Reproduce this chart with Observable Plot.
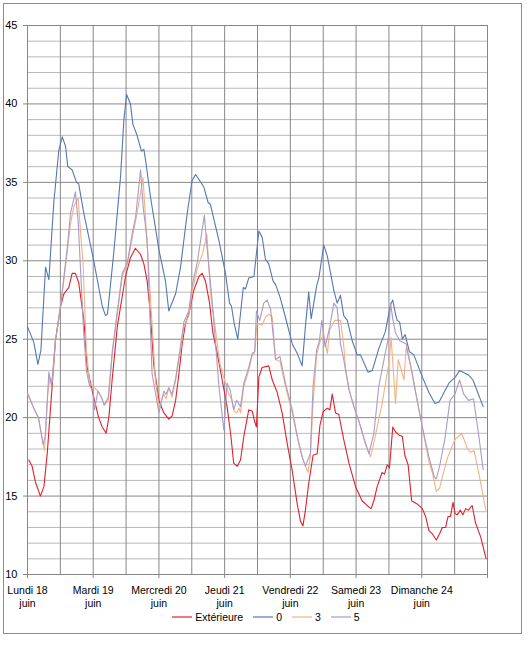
<!DOCTYPE html>
<html>
<head>
<meta charset="utf-8">
<script src="https://cdn.jsdelivr.net/npm/d3@7"></script>
<script src="https://cdn.jsdelivr.net/npm/@observablehq/plot@0.6"></script>
<style>
  html, body { margin: 0; padding: 0; background: #fff; }
  body { width: 532px; height: 645px; position: relative; font-family: "Liberation Sans", Arial, sans-serif; }
  #frame { position: absolute; left: 3px; top: 3px; width: 519px; height: 631px; border: 1px solid #8c8c8c; box-sizing: border-box; pointer-events: none; }
  #chart { position: absolute; left: 0; top: 0; }
  #legend { position: absolute; left: 0; top: 611px; width: 532px; display: flex; justify-content: center; align-items: center; font-size: 10.5px; color: #000; }
  #legend .item { display: flex; align-items: center; margin: 0 5px; }
  #legend svg { margin-right: 3px; }
</style>
</head>
<body>
<div id="chart"></div>
<div id="legend"></div>
<div id="frame"></div>
<script>
// Hours since Lundi 18 juin 00:00, and temperatures (°C)
const dayLabels = ["Lundi 18\njuin", "Mardi 19\njuin", "Mercredi 20\njuin", "Jeudi 21\njuin", "Vendredi 22\njuin", "Samedi 23\njuin", "Dimanche 24\njuin"];
const seriesNames = ["Extérieure", "0", "3", "5"];
const seriesColors = ["#e0202a", "#5577b2", "#f4b183", "#a99cc6"];

const extT = [0.5,1.7,2.9,4.7,6,7.2,9,10.2,12.1,13.3,15.1,16.3,17.5,18.7,20.6,21.8,23,24.2,26,27.3,28.7,29.7,30.9,32.8,34,35.8,37.6,39.4,41.3,42.5,43.7,44.9,46.1,48,49.8,51.6,52.8,54.1,55.3,56.5,57.7,58.9,60.7,62.6,63.8,65,66.5,67.7,69.3,71.1,72.9,74.3,75.3,76.6,77.8,79,80.8,82.1,82.9,83.6,84.5,85.7,88.1,89.4,91.2,93,94.9,96.7,98.5,99.7,100.6,101.5,102.7,104.3,105.8,106.8,108,109.5,110.4,111.3,112.5,113.7,115.5,117.4,119.8,122.2,124.7,125.5,126.5,127.7,129.5,130.4,131.4,132.2,133.4,134.4,135.6,136.9,137.8,139,140.3,142.3,144.2,145.4,146.6,147.8,149.3,150.5,151.5,152.7,153.6,154.5,155.4,156.1,156.9,158.1,159,160,161,162.4,163.6,165.5,167.5];
const extV = [17.3,16.9,15.9,15.0,15.6,17.7,22.0,24.9,27.1,27.9,28.3,29.2,29.2,28.6,26.2,23.2,22.2,21.3,20.0,19.4,19.0,20.0,22.4,25.8,27.1,29.0,30.2,30.8,30.4,29.8,28.7,26.6,23.4,21.1,20.3,19.9,20.1,21.1,22.8,24.7,26.0,26.6,28.1,29.0,29.2,28.7,27.3,25.4,24.1,22.4,20.7,18.8,17.1,16.9,17.3,18.8,20.5,20.4,19.8,19.4,22.6,23.2,23.3,22.4,21.6,20.3,18.3,16.6,14.5,13.4,13.1,14.1,15.8,17.6,17.7,19.5,20.4,20.6,20.5,21.5,20.3,20.2,18.6,17.1,15.6,14.7,14.3,14.2,14.7,15.6,16.5,16.4,17.0,16.8,19.4,19.1,18.9,18.8,17.6,17.0,14.7,14.5,14.2,13.7,12.8,12.6,12.2,12.6,13.0,13.0,13.7,13.7,14.6,13.9,13.8,14.1,13.8,14.2,14.1,14.4,13.3,12.4,11.0];

const s0T = [0,2.3,3.8,4.9,6.6,7.8,9.6,11.4,12.7,13.9,14.7,16.3,17.9,18.7,20.6,24.2,27.3,28.5,29.2,31.5,34,35.2,36.2,37.6,38.5,40,41.6,42.5,43.3,44.9,48,50.4,51.6,54.1,55.9,58.3,60.1,61.4,64.4,66,66.8,69.9,72.3,73.8,74.5,75.5,76.8,78.8,79.6,80.8,82.7,84.5,85.7,86.9,88.1,89.7,90.6,92.2,94.2,96.7,98.5,100.3,101.5,102.7,103.6,105.6,106.4,108.2,109.5,111.9,113.1,114.3,115.5,116.8,118.6,120.4,121.6,124.4,125.9,128.3,130.7,132.6,133.4,134.4,135,135.9,136.9,137.9,139.5,141.1,144.2,146.6,148.8,150.3,153.9,156.3,157.8,161.2,162.7,166.4];
const s0V = [25.8,24.8,23.4,24.3,29.6,28.8,33.7,37.0,37.9,37.3,36.0,35.8,35.0,34.9,33.0,30.0,27.1,26.5,26.6,30.5,35.4,39.0,40.6,40.0,38.7,38.0,37.0,37.1,36.2,34.1,30.7,28.7,26.8,27.9,29.6,33.0,35.1,35.5,34.7,33.7,33.6,31.3,29.2,27.3,27.1,26.0,25.0,28.3,28.2,28.9,29.0,31.9,31.5,30.1,29.8,28.7,28.5,27.7,26.4,24.7,24.1,23.3,25.8,28.0,26.3,28.4,28.9,31.0,30.3,28.1,27.3,27.8,26.5,26.2,24.9,24.0,24.0,22.9,23.0,24.4,25.5,27.2,27.5,26.6,26.2,26.1,25.0,25.3,24.2,24.0,22.6,21.6,20.9,21.0,22.2,22.6,23.0,22.7,22.4,20.7];

const s3T = [0,2.3,4,5.2,6.2,7.4,8.2,9.0,10.2,12.1,14.5,15.7,17,18.5,19.3,20.3,21.5,22.7,24,25.7,27,28,29.5,31,32.8,34.6,36.5,38.3,40,42.2,43,44.9,46.7,48,49.8,50.6,51.6,52.8,54.1,55.9,57.1,58.9,60.1,62,64,65.5,66.8,68.5,70.3,72.3,73.5,74.5,75.5,76.4,77.3,77.8,79,80.8,82.1,83,83.8,85.7,86.9,88.1,89.4,90.6,92.2,94.2,96.7,98.5,100.3,102.4,103.3,104.3,105.6,106.6,108,109.5,110.4,112.2,114.3,115.5,116.1,117.4,119.2,121,123.4,125.3,126.5,129.5,132,132.8,133.5,134.4,135.4,136.9,137.5,138.3,140.3,142.3,144.2,146.6,148,149.3,150.5,151.5,153.5,156.1,158.6,160.7,161.8,163.1,164.9,167.4];
const s3V = [21.5,20.6,20.0,18.8,17.9,21.5,22.6,22.3,24.9,27.1,30.5,32.4,33.5,34.0,32.0,29.8,24.3,22.2,22.0,21.7,21.3,20.8,21.1,24.1,26.6,29.0,29.8,31.5,33.0,35.3,33.0,27.7,22.4,20.7,21.5,21.2,21.9,21.3,22.4,24.3,25.8,26.5,28.0,29.5,30.5,31.7,28.0,25.8,23.4,22.2,21.5,21.2,20.4,20.3,20.6,20.3,22.0,23.0,24.0,24.2,26.0,25.9,26.4,26.6,26.4,23.7,23.6,22.0,20.3,18.8,17.5,16.5,17.5,20.9,24.0,24.7,25.4,24.1,25.6,26.2,26.2,24.6,23.2,21.8,20.7,19.8,18.3,17.5,18.4,20.9,23.5,25.1,23.3,20.9,23.7,22.8,22.4,24.5,23.0,21.1,19.4,17.2,16.4,15.3,15.5,16.2,17.5,18.6,19.0,18.0,17.8,17.9,16.4,14.1];

const s5T = [0,2.3,4,5.7,6.5,7.8,8.8,10.2,12.1,14.5,15.7,17.5,18.5,19.5,20.5,21.5,22.7,24.0,24.5,25.7,27,28,29.5,31,32.8,34.6,36.5,38.3,39.5,41.3,42.2,43.7,45.5,48,49,49.8,50.6,51.6,52.8,54.1,55.9,57.1,58.9,60.1,62,64.6,65.5,67.3,68.3,69.9,71.7,72.9,74.1,75.3,76.4,77.8,79,80.8,82.1,83,83.6,84.8,86.3,87.5,88.8,90.6,92.2,94.2,96.7,98.5,100.3,101.5,103.3,104.3,105.6,106.6,107.5,108.7,110.4,111.9,113.1,114.3,115.5,117.4,119.2,121,123.4,124.7,126.5,128.3,130.2,131.8,132.6,133.4,134.4,136,138.3,140.3,142.3,144.2,146.6,148.6,149.3,150.5,152.4,154.3,156.1,157.8,159.3,161.1,162.9,164.7,166.4];
const s5V = [21.6,20.6,20.0,18.3,18.8,22.9,22.0,24.9,27.2,30.8,33.0,34.4,32.5,29.0,25.5,23.0,22.0,21.7,20.5,21.7,21.3,20.8,21.3,24.3,26.8,29.2,29.9,31.8,32.8,35.8,33.5,31.3,22.8,20.3,21.1,21.7,21.5,21.9,21.5,22.5,24.6,26.1,26.8,28.4,29.9,32.9,31.0,27.7,25.6,22.0,19.2,22.2,21.7,20.5,21.1,20.7,22.2,23.2,24.1,24.2,26.8,26.2,27.3,27.5,26.9,23.7,23.9,22.2,20.5,18.8,17.5,16.9,17.7,22.0,24.3,24.9,26.2,24.5,25.8,27.3,27.0,24.7,23.7,21.8,20.7,19.8,18.4,17.7,19.0,22.0,23.7,25.1,27.3,26.3,25.4,24.9,24.7,23.0,21.1,19.4,17.5,16.2,16.1,16.9,18.6,21.1,21.5,22.4,21.5,21.1,21.2,19.0,16.7];

const yMajor = [10, 15, 20, 25, 30, 35, 40, 45];
const dayTicks = [0, 24, 48, 72, 96, 120, 144, 168];

// Build library tables from the arrays
const seriesT = [extT, s0T, s3T, s5T];
const seriesV = [extV, s0V, s3V, s5V];
const rows = seriesNames.flatMap((name, k) => seriesT[k].map((t, i) => ({t, v: seriesV[k][i], name})));
const yMinor = d3.range(10, 46).filter(v => v % 5 !== 0);
const xGrid = d3.range(0, 169, 12);

const chart = Plot.plot({
  width: 532,
  height: 606,
  marginLeft: 27,
  marginRight: 45,
  marginTop: 25,
  marginBottom: 32,
  style: {fontFamily: "Liberation Sans, Arial, sans-serif", fontSize: "10.5px", color: "#000", background: "transparent", overflow: "visible"},
  x: {domain: [0, 168]},
  y: {domain: [10, 45]},
  color: {domain: seriesNames, range: seriesColors},
  marks: [
    Plot.ruleY(yMinor, {stroke: "#b8b8b8", strokeWidth: 1}),
    Plot.ruleY(yMajor, {stroke: "#878787", strokeWidth: 1}),
    Plot.ruleX(xGrid, {stroke: "#878787", strokeWidth: 1}),
    Plot.line(rows, {x: "t", y: "v", z: "name", stroke: "name", strokeWidth: 1.1, curve: "linear"}),
    Plot.axisY(yMajor, {tickSize: 4, tickPadding: 6, stroke: "#878787", label: null, fontSize: 11}),
    Plot.axisX(dayTicks, {tickSize: 4, tickPadding: 6, stroke: "#878787", label: null, lineHeight: 1.25,
      tickFormat: (d) => { const i = dayTicks.indexOf(d); return i < dayLabels.length ? dayLabels[i] : ""; }})
  ]
});
document.getElementById("chart").appendChild(chart);

// Legend
const legend = document.getElementById("legend");
seriesNames.forEach((name, i) => {
  const item = document.createElement("div");
  item.className = "item";
  item.innerHTML = `<svg width="20" height="4"><line x1="0" y1="2" x2="20" y2="2" stroke="${seriesColors[i]}" stroke-width="1.2"/></svg><span>${name}</span>`;
  legend.appendChild(item);
});
</script>
</body>
</html>
